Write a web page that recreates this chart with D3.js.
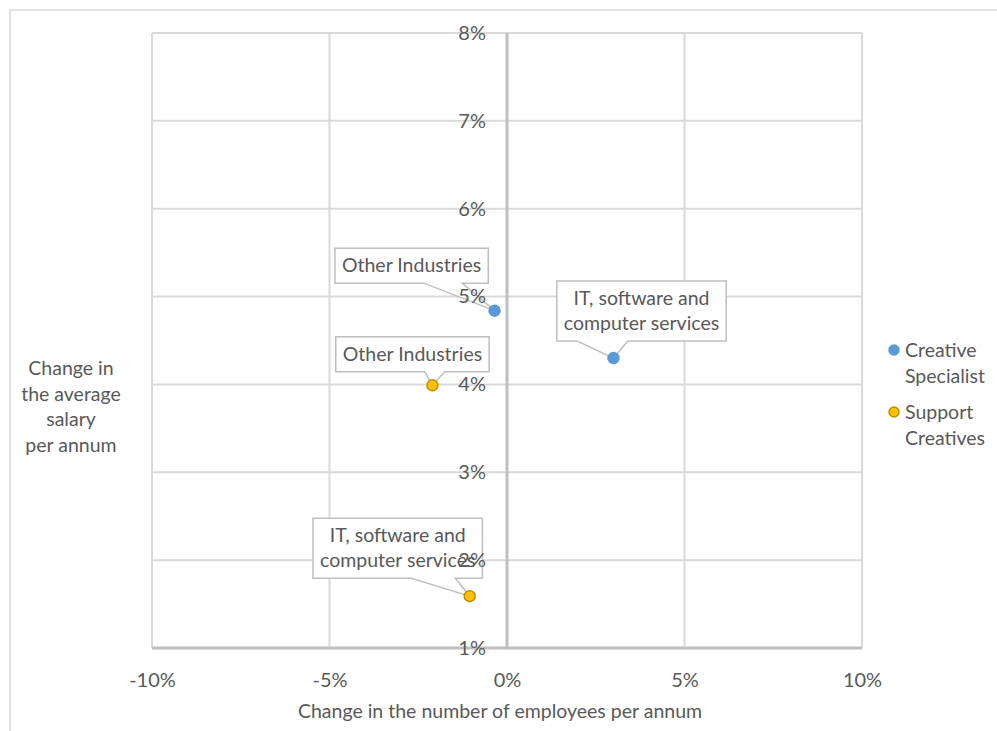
<!DOCTYPE html>
<html>
<head>
<meta charset="utf-8">
<script src="https://cdn.jsdelivr.net/npm/d3@7"></script>
<style>
  body { margin: 0; background: #fff; }
  svg { display: block; font-family: Lato, "Open Sans", sans-serif; }
</style>
</head>
<body>
<svg id="chart" width="997" height="731"></svg>
<script>
// data
const seriesNames = ["Creative Specialist", "Support Creatives"];
const seriesColors = ["#5b9bd5", "#ffc000"];
const seriesStrokes = ["#5b9bd5", "#bf8f00"];
const pointSeries = [0, 0, 1, 1];
const pointLabels = [
  ["Other Industries"],
  ["IT, software and", "computer services"],
  ["Other Industries"],
  ["IT, software and", "computer services"]
];
const employeeChange = [-0.0035, 0.030, -0.021, -0.0105];
const salaryChange = [0.0484, 0.0430, 0.0399, 0.0159];
const xTicks = [-0.10, -0.05, 0, 0.05, 0.10];
const xTickLabels = ["-10%", "-5%", "0%", "5%", "10%"];
const yTicks = [0.01, 0.02, 0.03, 0.04, 0.05, 0.06, 0.07, 0.08];
const yTickLabels = ["1%", "2%", "3%", "4%", "5%", "6%", "7%", "8%"];

// label callout layout (box centre offset from the point, tail base as fractions of box width)
const labelLayout = [
  { dx: -83, dy: -45, tail: [0.58, 0.83] },
  { dx: 28, dy: -47, tail: [0.12, 0.42] },
  { dx: -20, dy: -31, tail: [0.58, 0.71] },
  { dx: -72, dy: -48, tail: [0.58, 0.84] }
];

const svg = d3.select("#chart");
const textColor = "#595959";

const x = d3.scaleLinear().domain([-0.10, 0.10]).range([152, 862]);
const y = d3.scaleLinear().domain([0.01, 0.08]).range([648, 33]);

// outer chart border
svg.append("rect")
  .attr("x", 10).attr("y", 10)
  .attr("width", 1000).attr("height", 800)
  .attr("fill", "none")
  .attr("stroke", "#d9d9d9")
  .attr("stroke-width", 1.5);

// gridlines
svg.append("g").selectAll("line")
  .data(xTicks.filter(d => d !== 0))
  .join("line")
  .attr("x1", d => x(d)).attr("x2", d => x(d))
  .attr("y1", y(0.08)).attr("y2", y(0.01))
  .attr("stroke", "#d9d9d9").attr("stroke-width", 2);

svg.append("g").selectAll("line")
  .data(yTicks.filter(d => d !== 0.01))
  .join("line")
  .attr("x1", x(-0.10)).attr("x2", x(0.10))
  .attr("y1", d => y(d)).attr("y2", d => y(d))
  .attr("stroke", "#d9d9d9").attr("stroke-width", 2);

// axis lines
svg.append("line")
  .attr("x1", x(0)).attr("x2", x(0))
  .attr("y1", y(0.08)).attr("y2", y(0.01))
  .attr("stroke", "#bfbfbf").attr("stroke-width", 3);
svg.append("line")
  .attr("x1", x(-0.10)).attr("x2", x(0.10))
  .attr("y1", y(0.01)).attr("y2", y(0.01))
  .attr("stroke", "#bfbfbf").attr("stroke-width", 3);

// data label callouts
const points = employeeChange.map((v, i) => ({
  px: x(v), py: y(salaryChange[i]), s: pointSeries[i], lines: pointLabels[i], lay: labelLayout[i]
}));

const lineH = 25;
const fontSize = 19.5;

points.forEach(p => {
  const g = svg.append("g");
  const t = g.append("text")
    .attr("fill", textColor)
    .attr("font-size", fontSize)
    .attr("text-anchor", "middle");
  const cx = p.px + p.lay.dx, cy = p.py + p.lay.dy;
  p.lines.forEach((ln, k) => {
    t.append("tspan")
      .attr("x", cx)
      .attr("y", cy + (k - (p.lines.length - 1) / 2) * lineH)
      .attr("dy", "0.35em")
      .text(ln);
  });
  const bb = t.node().getBBox();
  const w = bb.width + 14, h = p.lines.length * lineH + 10;
  const left = cx - w / 2, top = cy - h / 2, right = left + w, bottom = top + h;
  const t1 = left + w * p.lay.tail[0], t2 = left + w * p.lay.tail[1];
  const path = d3.path();
  path.moveTo(left, top);
  path.lineTo(right, top);
  path.lineTo(right, bottom);
  path.lineTo(t2, bottom);
  path.lineTo(p.px, p.py);
  path.lineTo(t1, bottom);
  path.lineTo(left, bottom);
  path.closePath();
  g.insert("path", "text")
    .attr("d", path.toString())
    .attr("fill", "#fff")
    .attr("stroke", "#bfbfbf")
    .attr("stroke-width", 1.5);
});

// points
svg.append("g").selectAll("circle")
  .data(points)
  .join("circle")
  .attr("cx", d => d.px).attr("cy", d => d.py)
  .attr("r", 5.5)
  .attr("fill", d => seriesColors[d.s])
  .attr("stroke", d => seriesStrokes[d.s])
  .attr("stroke-width", 1.5);

// tick labels
const yAxis = svg.append("g")
  .attr("transform", `translate(${x(0)},0)`)
  .call(d3.axisLeft(y).tickValues(yTicks).tickSize(0).tickPadding(21)
    .tickFormat((d, i) => yTickLabels[i]));
const xAxis = svg.append("g")
  .attr("transform", `translate(0,${y(0.01)})`)
  .call(d3.axisBottom(x).tickValues(xTicks).tickSize(0).tickPadding(25)
    .tickFormat((d, i) => xTickLabels[i]));
[yAxis, xAxis].forEach(a => {
  a.select(".domain").remove();
  a.selectAll("text")
    .attr("fill", textColor)
    .attr("font-size", 20)
    .attr("font-family", "Lato, 'Open Sans', sans-serif");
});

// axis titles
svg.append("text")
  .attr("x", x(0) - 7).attr("y", 711)
  .attr("dy", "0.35em")
  .attr("text-anchor", "middle")
  .attr("fill", textColor).attr("font-size", fontSize)
  .text("Change in the number of employees per annum");

const yTitle = svg.append("text")
  .attr("text-anchor", "middle")
  .attr("fill", textColor).attr("font-size", fontSize);
["Change in", "the average", "salary", "per annum"].forEach((ln, k) => {
  yTitle.append("tspan")
    .attr("x", 71).attr("y", 368 + k * 25.7)
    .attr("dy", "0.35em")
    .text(ln);
});

// legend
const legend = svg.append("g");
seriesNames.forEach((name, i) => {
  const ly = 350 + i * 62;
  legend.append("circle")
    .attr("cx", 894).attr("cy", ly)
    .attr("r", 5)
    .attr("fill", seriesColors[i])
    .attr("stroke", seriesStrokes[i])
    .attr("stroke-width", 1.5);
  const words = name.split(" ");
  const lt = legend.append("text")
    .attr("fill", textColor).attr("font-size", fontSize);
  words.forEach((wd, k) => {
    lt.append("tspan")
      .attr("x", 905).attr("y", ly + k * 26)
      .attr("dy", "0.35em")
      .text(wd);
  });
});
</script>
</body>
</html>
